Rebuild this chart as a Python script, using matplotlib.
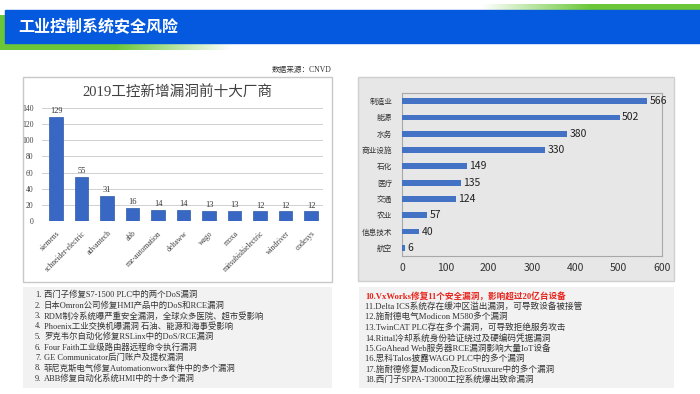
import numpy as np
import matplotlib
matplotlib.use("Agg")
import matplotlib.pyplot as plt
from matplotlib.patches import Rectangle
from matplotlib.colors import LinearSegmentedColormap

plt.rcParams['font.family'] = ['Noto Sans CJK SC', 'DejaVu Sans']

# ---------------- data ----------------
page_title = "工业控制系统安全风险"
source_note = "数据来源：CNVD"

vendor_title = "2019工控新增漏洞前十大厂商"
vendors = ["siemens", "schneider-electric", "advantech", "abb", "mz-automation",
           "deltaww", "wago", "moxa", "mitsubishielectric", "windriver", "codesys"]
vendor_vulns = [129, 55, 31, 16, 14, 14, 13, 13, 12, 12, 12]
vendor_yticks = [0, 20, 40, 60, 80, 100, 120, 140]

sectors = ["制造业", "能源", "水务", "商业设施", "石化", "医疗", "交通", "农业", "信息技术", "航空"]
sector_counts = [566, 502, 380, 330, 149, 135, 124, 57, 40, 6]
sector_xticks = [0, 100, 200, 300, 400, 500, 600]

left_notes = [
    "西门子修复S7-1500 PLC中的两个DoS漏洞",
    "日本Omron公司修复HMI产品中的DoS和RCE漏洞",
    "RDM制冷系统曝严重安全漏洞，全球众多医院、超市受影响",
    "Phoenix工业交换机曝漏洞 石油、能源和海事受影响",
    "罗克韦尔自动化修复RSLinx中的DoS/RCE漏洞",
    "Four Faith工业级路由器远程命令执行漏洞",
    "GE Communicator后门账户及提权漏洞",
    "菲尼克斯电气修复Automationworx套件中的多个漏洞",
    "ABB修复自动化系统HMI中的十多个漏洞",
]
right_notes = [
    "10.VxWorks修复11个安全漏洞，影响超过20亿台设备",
    "11.Delta ICS系统存在缓冲区溢出漏洞，可导致设备被接管",
    "12.施耐德电气Modicon M580多个漏洞",
    "13.TwinCAT PLC存在多个漏洞，可导致拒绝服务攻击",
    "14.Rittal冷却系统身份验证绕过及硬编码凭据漏洞",
    "15.GoAhead Web服务器RCE漏洞影响大量IoT设备",
    "16.思科Talos披露WAGO PLC中的多个漏洞",
    "17.施耐德修复Modicon及EcoStruxure中的多个漏洞",
    "18.西门子SPPA-T3000工控系统爆出致命漏洞",
]

# ---------------- figure ----------------
W, H = 700, 394
fig = plt.figure(figsize=(7, 3.94), dpi=100)
bg = fig.add_axes([0, 0, 1, 1])
bg.set_xlim(0, W)
bg.set_ylim(H, 0)
bg.axis('off')

def px_axes(l, t, r, b):
    return fig.add_axes([l / W, 1 - b / H, (r - l) / W, (b - t) / H])

green = np.array([0.42, 0.78, 0.22])
white = np.array([1.0, 1.0, 1.0])
g2w = LinearSegmentedColormap.from_list("g2w", [green, green, white])
w2g = LinearSegmentedColormap.from_list("w2g", [white, green, green])
grad = np.linspace(0, 1, 256)[None, :]
# green strips
bg.imshow(grad, cmap=g2w, extent=(0, 232, 50, 15), aspect='auto', zorder=1)
bg.imshow(grad, cmap=w2g, extent=(482, 700, 10, 4), aspect='auto', zorder=1)
# blue band
bg.add_patch(Rectangle((5, 10), 695, 33, color='#0559df', zorder=2))
bg.text(18, 27, page_title, color='white', fontsize=11.5, fontweight='bold',
        va='center', ha='left', zorder=3)
bg.set_xlim(0, W)
bg.set_ylim(H, 0)

# source note
bg.text(331, 70, source_note, fontsize=5.5, ha='right', va='center',
        family=['Liberation Serif', 'Noto Sans CJK SC'], color='#333333')

# panel boxes
bg.add_patch(Rectangle((23, 77), 309, 205, facecolor='white', edgecolor='#c8c8c8', lw=1, zorder=1))
bg.add_patch(Rectangle((358, 77), 316, 204, facecolor='#e7e7e7', edgecolor='#cfcfcf', lw=1, zorder=1))
bg.add_patch(Rectangle((23, 287), 309, 101, facecolor='#f2f2f2', edgecolor='none', zorder=1))
bg.add_patch(Rectangle((359, 287), 315, 101, facecolor='#f2f2f2', edgecolor='none', zorder=1))

# left chart title
bg.text(177, 93, vendor_title, fontsize=10.5, ha='center', va='center',
        family=['Liberation Serif', 'Noto Sans CJK SC'], color='#404040', zorder=3)

# ---------------- left chart ----------------
serif = ['Liberation Serif', 'Noto Sans CJK SC']
ax1 = px_axes(42, 108, 323, 221)
x = np.arange(len(vendors))
ax1.bar(x, vendor_vulns, width=0.52, color='#3868c4', edgecolor='#2f5aa8', lw=0.5, zorder=3)
for xi, v in zip(x, vendor_vulns):
    ax1.text(xi, v + 2, str(v), ha='center', va='bottom', fontsize=6, family=serif, color='#333333')
ax1.set_ylim(0, 140)
ax1.set_xlim(-0.55, 10.47)
ax1.set_yticks(vendor_yticks)
ax1.yaxis.grid(True, color='#d0d0d0', lw=0.7)
ax1.set_axisbelow(True)
for s in ax1.spines.values():
    s.set_visible(False)
ax1.tick_params(length=0, pad=6)
ax1.set_xticks(x)
ax1.set_xticklabels(vendors, rotation=45, ha='right', rotation_mode='anchor',
                    fontsize=5.5, family=serif, color='#404040')
for lab in ax1.get_yticklabels():
    lab.set_fontsize(5.5)
    lab.set_family(serif)
    lab.set_color('#404040')
ax1.patch.set_alpha(0)

# ---------------- right chart ----------------
ax2 = px_axes(402, 93, 662, 256)
y = np.arange(len(sectors))
ax2.barh(y, sector_counts, height=0.35, color='#4472c4', zorder=3)
for yi, v in zip(y, sector_counts):
    ax2.text(v + 6, yi, str(v), va='center', ha='left', fontsize=7.5, color='#222222')
ax2.set_xlim(0, 600)
ax2.set_ylim(len(sectors) - 0.5, -0.5)
ax2.set_xticks(sector_xticks)
ax2.set_yticks(y)
ax2.set_yticklabels(sectors, fontsize=5.5, color='#333333')
ax2.tick_params(axis='x', labelsize=7.5, length=0, pad=5, colors='#333333')
ax2.tick_params(axis='y', length=0, pad=7)
ax2.set_facecolor('#e7e7e7')
for s in ax2.spines.values():
    s.set_color('#a8a8a8')
    s.set_linewidth(0.8)

# ---------------- notes ----------------
for i, t in enumerate(left_notes):
    yy = 295 + i * 10.5
    bg.text(35, yy, f"{i + 1}.", fontsize=6, va='center', ha='left', family=serif, color='#333333', zorder=3)
    bg.text(44, yy, t, fontsize=6, va='center', ha='left', family=serif, color='#333333', zorder=3)
for i, t in enumerate(right_notes):
    yy = 296 + i * 10.5
    if i == 0:
        bg.text(365, yy, t, fontsize=6.2, va='center', ha='left', family=serif,
                color='#e8231b', fontweight='bold', zorder=3)
    else:
        bg.text(365, yy, t, fontsize=6.2, va='center', ha='left', family=serif, color='#333333', zorder=3)

fig.savefig("out.png", dpi=100)
